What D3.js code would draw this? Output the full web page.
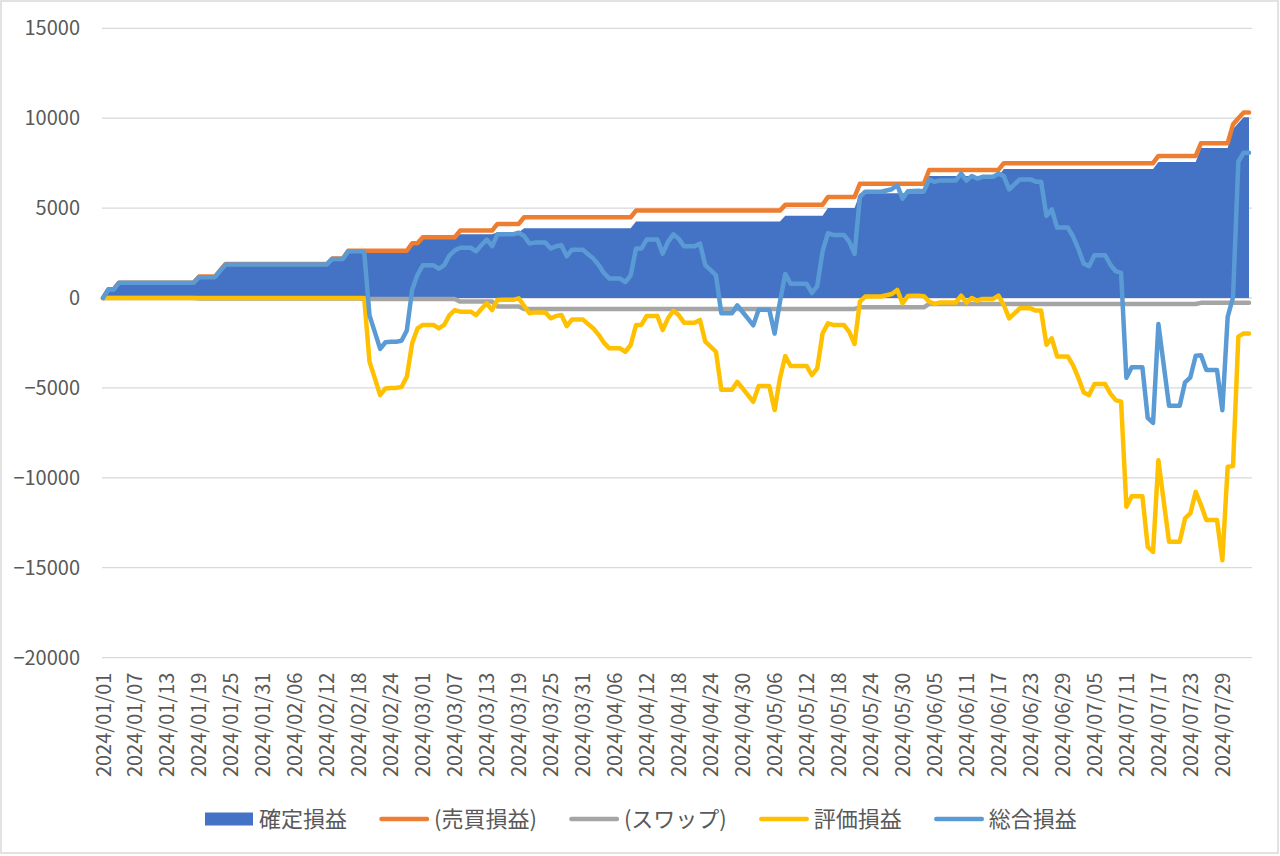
<!DOCTYPE html>
<html>
<head>
<meta charset="utf-8">
<script src="https://cdn.jsdelivr.net/npm/d3@7"></script>
<style>
  html, body { margin: 0; padding: 0; background: #fff; }
  svg text { font-family: "Noto Sans CJK JP", "Noto Sans", sans-serif; fill: #595959; }
</style>
</head>
<body>
<script>
// Daily categories 2024/01/01 .. 2024/08/03
const startDay = new Date(2024, 0, 1);
const endDay = new Date(2024, 7, 4);
const fmt = d3.timeFormat('%Y/%m/%d');
const dates = d3.timeDay.range(startDay, endDay).map(fmt);

const yTicks = [15000, 10000, 5000, 0, -5000, -10000, -15000, -20000];

const seriesNames = ['確定損益', '(売買損益)', '(スワップ)', '評価損益', '総合損益'];
const seriesColors = ['#4472C4', '#ED7D31', '#A5A5A5', '#FFC000', '#5B9BD5'];

// 確定損益 (area)
const fixedPL = [
  0, 480, 480, 850, 850, 850, 850,
  850, 850, 850, 850, 850, 850, 850,
  850, 850, 850, 850, 1160, 1160, 1160,
  1160, 1520, 1860, 1860, 1860, 1860, 1860,
  1860, 1860, 1860, 1860, 1860, 1860, 1860,
  1860, 1860, 1860, 1860, 1860, 1860, 1860,
  1860, 2170, 2170, 2170, 2600, 2600, 2600,
  2570, 2570, 2570, 2570, 2570, 2570, 2570,
  2570, 2570, 2980, 2980, 3320, 3320, 3320,
  3320, 3320, 3320, 3320, 3550, 3550, 3550,
  3550, 3550, 3550, 3550, 3650, 3650, 3650,
  3650, 3650, 3880, 3880, 3880, 3880, 3880,
  3880, 3880, 3880, 3880, 3880, 3880, 3880,
  3880, 3880, 3880, 3880, 3880, 3880, 3880,
  3880, 3880, 4250, 4250, 4250, 4250, 4250,
  4250, 4250, 4250, 4250, 4250, 4250, 4250,
  4250, 4250, 4250, 4250, 4250, 4250, 4250,
  4250, 4250, 4250, 4250, 4250, 4250, 4250,
  4250, 4250, 4570, 4570, 4570, 4570, 4570,
  4570, 4570, 4570, 5010, 5010, 5010, 5010,
  5010, 5010, 5830, 5830, 5830, 5830, 5830,
  5830, 5830, 5830, 5830, 5830, 5830, 5830,
  5830, 6790, 6790, 6790, 6790, 6790, 6790,
  6790, 6790, 6790, 6790, 6790, 6790, 6790,
  6790, 7170, 7170, 7170, 7170, 7170, 7170,
  7170, 7170, 7170, 7170, 7170, 7170, 7170,
  7170, 7170, 7170, 7170, 7170, 7170, 7170,
  7170, 7170, 7170, 7170, 7170, 7170, 7170,
  7170, 7170, 7570, 7570, 7570, 7570, 7570,
  7570, 7570, 7570, 8340, 8340, 8340, 8340,
  8340, 8340, 9380, 9730, 10050, 10050
];

// (売買損益)
const tradePL = [
  0, 480, 480, 850, 850, 850, 850,
  850, 850, 850, 850, 850, 850, 850,
  850, 850, 850, 850, 1190, 1190, 1190,
  1190, 1550, 1890, 1890, 1890, 1890, 1890,
  1890, 1890, 1890, 1890, 1890, 1890, 1890,
  1890, 1890, 1890, 1890, 1890, 1890, 1890,
  1890, 2200, 2200, 2200, 2630, 2630, 2630,
  2630, 2630, 2630, 2630, 2630, 2630, 2630,
  2630, 2630, 3040, 3040, 3380, 3380, 3380,
  3380, 3380, 3380, 3380, 3750, 3750, 3750,
  3750, 3750, 3750, 3750, 4120, 4120, 4120,
  4120, 4120, 4490, 4490, 4490, 4490, 4490,
  4490, 4490, 4490, 4490, 4490, 4490, 4490,
  4490, 4490, 4490, 4490, 4490, 4490, 4490,
  4490, 4490, 4860, 4860, 4860, 4860, 4860,
  4860, 4860, 4860, 4860, 4860, 4860, 4860,
  4860, 4860, 4860, 4860, 4860, 4860, 4860,
  4860, 4860, 4860, 4860, 4860, 4860, 4860,
  4860, 4860, 5180, 5180, 5180, 5180, 5180,
  5180, 5180, 5180, 5620, 5620, 5620, 5620,
  5620, 5620, 6350, 6350, 6350, 6350, 6350,
  6350, 6350, 6350, 6350, 6350, 6350, 6350,
  6350, 7120, 7120, 7120, 7120, 7120, 7120,
  7120, 7120, 7120, 7120, 7120, 7120, 7120,
  7120, 7500, 7500, 7500, 7500, 7500, 7500,
  7500, 7500, 7500, 7500, 7500, 7500, 7500,
  7500, 7500, 7500, 7500, 7500, 7500, 7500,
  7500, 7500, 7500, 7500, 7500, 7500, 7500,
  7500, 7500, 7900, 7900, 7900, 7900, 7900,
  7900, 7900, 7900, 8610, 8610, 8610, 8610,
  8610, 8610, 9650, 10000, 10320, 10320
];

// (スワップ)
const swapPL = [
  0, 0, 0, 0, 0, 0, 0,
  0, 0, 0, 0, 0, 0, 0,
  0, 0, 0, 0, -30, -30, -30,
  -30, -30, -30, -30, -30, -30, -30,
  -30, -30, -30, -30, -30, -30, -30,
  -30, -30, -30, -30, -30, -30, -30,
  -30, -30, -30, -30, -30, -30, -30,
  -60, -60, -60, -60, -60, -60, -60,
  -60, -60, -60, -60, -60, -60, -60,
  -60, -60, -60, -60, -200, -200, -200,
  -200, -200, -200, -200, -470, -470, -470,
  -470, -470, -610, -610, -610, -610, -610,
  -610, -610, -610, -610, -610, -610, -610,
  -610, -610, -610, -610, -610, -610, -610,
  -610, -610, -610, -610, -610, -610, -610,
  -610, -610, -610, -610, -610, -610, -610,
  -610, -610, -610, -610, -610, -610, -610,
  -610, -610, -610, -610, -610, -610, -610,
  -610, -610, -610, -610, -610, -610, -610,
  -610, -610, -610, -610, -610, -610, -610,
  -610, -610, -520, -520, -520, -520, -520,
  -520, -520, -520, -520, -520, -520, -520,
  -520, -330, -330, -330, -330, -330, -330,
  -330, -330, -330, -330, -330, -330, -330,
  -330, -330, -330, -330, -330, -330, -330,
  -330, -330, -330, -330, -330, -330, -330,
  -330, -330, -330, -330, -330, -330, -330,
  -330, -330, -330, -330, -330, -330, -330,
  -330, -330, -330, -330, -330, -330, -330,
  -330, -330, -330, -270, -270, -270, -270,
  -270, -270, -270, -270, -270, -270
];

// 評価損益
const unrealizedPL = [
  0, 0, 0, 0, 0, 0, 0,
  0, 0, 0, 0, 0, 0, 0,
  0, 0, 0, 0, 0, 0, 0,
  0, 0, 0, 0, 0, 0, 0,
  0, 0, 0, 0, 0, 0, 0,
  0, 0, 0, 0, 0, 0, 0,
  0, 0, 0, 0, 0, 0, 0,
  0, -3540, -4470, -5400, -5030, -5000, -5000,
  -4950, -4380, -2520, -1690, -1500, -1500, -1500,
  -1690, -1500, -950, -670, -760, -760, -760,
  -950, -600, -300, -670, -110, -100, -100,
  -100, -20, -430, -850, -800, -800, -800,
  -1130, -1000, -950, -1560, -1190, -1190, -1190,
  -1450, -1690, -2050, -2500, -2800, -2800, -2800,
  -2990, -2615, -1500, -1500, -1000, -1000, -1000,
  -1780, -1130, -710, -950, -1370, -1370, -1370,
  -1220, -2430, -2700, -2990, -5100, -5100, -5100,
  -4660, -5030, -5400, -5770, -4900, -4900, -4900,
  -6230, -4470, -3230, -3780, -3780, -3780, -3780,
  -4290, -3910, -1970, -1410, -1500, -1500, -1500,
  -1880, -2560, -200, 80, 80, 80, 80,
  150, 220, 450, -300, 110, 120, 130,
  100, -200, -330, -250, -250, -250, -250,
  130, -260, 0, -150, -50, -50, -50,
  130, -390, -1130, -850, -575, -575, -575,
  -700, -700, -2600, -2240, -3250, -3250, -3250,
  -3750, -4450, -5260, -5400, -4790, -4790, -4790,
  -5320, -5680, -5770, -11610, -11020, -11020, -11020,
  -13840, -14120, -9020, -11300, -13560, -13560, -13560,
  -12260, -11980, -10780, -11520, -12350, -12350, -12350,
  -14580, -9390, -9350, -2150, -1970, -1970
];

// 総合損益
const totalPL = [
  0, 480, 480, 850, 850, 850, 850,
  850, 850, 850, 850, 850, 850, 850,
  850, 850, 850, 850, 1160, 1160, 1160,
  1160, 1520, 1860, 1860, 1860, 1860, 1860,
  1860, 1860, 1860, 1860, 1860, 1860, 1860,
  1860, 1860, 1860, 1860, 1860, 1860, 1860,
  1860, 2170, 2170, 2170, 2600, 2600, 2600,
  2570, -970, -1900, -2830, -2460, -2430, -2430,
  -2380, -1810, 460, 1290, 1820, 1820, 1820,
  1630, 1820, 2370, 2650, 2790, 2790, 2790,
  2600, 2950, 3250, 2880, 3540, 3550, 3550,
  3550, 3630, 3450, 3030, 3080, 3080, 3080,
  2750, 2880, 2930, 2320, 2690, 2690, 2690,
  2430, 2190, 1830, 1380, 1080, 1080, 1080,
  890, 1265, 2750, 2750, 3250, 3250, 3250,
  2470, 3120, 3540, 3300, 2880, 2880, 2880,
  3030, 1820, 1550, 1260, -850, -850, -850,
  -410, -780, -1150, -1520, -650, -650, -650,
  -1980, -220, 1340, 790, 790, 790, 790,
  280, 660, 2600, 3600, 3510, 3510, 3510,
  3130, 2450, 5630, 5910, 5910, 5910, 5910,
  5980, 6050, 6280, 5530, 5940, 5950, 5960,
  5930, 6590, 6460, 6540, 6540, 6540, 6540,
  6920, 6530, 6790, 6640, 6740, 6740, 6740,
  6920, 6780, 6040, 6320, 6595, 6595, 6595,
  6470, 6470, 4570, 4930, 3920, 3920, 3920,
  3420, 2720, 1910, 1770, 2380, 2380, 2380,
  1850, 1490, 1400, -4440, -3850, -3850, -3850,
  -6670, -6950, -1450, -3730, -5990, -5990, -5990,
  -4690, -4410, -3210, -3180, -4010, -4010, -4010,
  -6240, -1050, 30, 7580, 8080, 8080
];

const width = 1280, height = 856;
const plot = { left: 103, right: 1249, top: 28.3, bottom: 657.6 };

const svg = d3.select('body').append('svg')
  .attr('width', width)
  .attr('height', height);

svg.append('rect')
  .attr('x', 1).attr('y', 1)
  .attr('width', width - 3).attr('height', height - 4)
  .attr('fill', '#fff')
  .attr('stroke', '#D9D9D9')
  .attr('stroke-width', 1.5);

const x = d3.scalePoint().domain(dates).range([plot.left, plot.right]);
const y = d3.scaleLinear().domain([-20000, 15000]).range([plot.bottom, plot.top]);

// Gridlines
svg.append('g')
  .selectAll('line')
  .data(yTicks)
  .enter().append('line')
  .attr('x1', plot.left - 1)
  .attr('x2', plot.right + 3)
  .attr('y1', d => y(d))
  .attr('y2', d => y(d))
  .attr('stroke', '#D9D9D9')
  .attr('stroke-width', 1.3);

// Y axis labels
const yAxis = svg.append('g')
  .attr('transform', 'translate(' + (plot.left - 1) + ',0)')
  .call(d3.axisLeft(y).tickValues(yTicks).tickSize(0).tickPadding(22).tickFormat(d3.format('d')));
yAxis.select('.domain').remove();
yAxis.selectAll('text')
  .attr('font-size', 20)
  .style('font-family', '"Noto Sans CJK JP", sans-serif');

// X axis labels (every 6th day)
const xAxis = svg.append('g')
  .attr('transform', 'translate(0,' + plot.bottom + ')')
  .call(d3.axisBottom(x).tickValues(dates.filter((d, i) => i % 6 === 0)).tickSize(0));
xAxis.select('.domain').remove();
xAxis.selectAll('text')
  .attr('font-size', 20)
  .style('font-family', '"Noto Sans CJK JP", sans-serif')
  .attr('transform', 'rotate(-90)')
  .attr('text-anchor', 'end')
  .attr('x', -15)
  .attr('y', 0)
  .attr('dy', '0.35em');

// Area for 確定損益
const area = d3.area()
  .x((d, i) => x(dates[i]))
  .y0(y(0))
  .y1(d => y(d));

svg.append('path')
  .datum(fixedPL)
  .attr('d', area)
  .attr('fill', seriesColors[0]);

// Lines
const line = d3.line()
  .x((d, i) => x(dates[i]))
  .y(d => y(d));

[tradePL, swapPL, unrealizedPL, totalPL].forEach((values, k) => {
  svg.append('path')
    .datum(values)
    .attr('d', line)
    .attr('fill', 'none')
    .attr('stroke', seriesColors[k + 1])
    .attr('stroke-width', 4.5)
    .attr('stroke-linejoin', 'round')
    .attr('stroke-linecap', 'round');
});

// Legend
const legend = svg.append('g');
const legendY = 819;
let cursor = 205;
seriesNames.forEach((name, k) => {
  if (k === 0) {
    legend.append('rect')
      .attr('x', cursor).attr('y', legendY - 6.5)
      .attr('width', 48).attr('height', 13)
      .attr('fill', seriesColors[k]);
    cursor += 54;
  } else {
    legend.append('line')
      .attr('x1', cursor + 2.5).attr('x2', cursor + 48)
      .attr('y1', legendY).attr('y2', legendY)
      .attr('stroke', seriesColors[k])
      .attr('stroke-width', 4.5)
      .attr('stroke-linecap', 'round');
    cursor += 55;
  }
  const t = legend.append('text')
    .attr('x', cursor)
    .attr('y', legendY)
    .attr('dy', '0.35em')
    .attr('font-size', 22)
    .text(name);
  cursor += t.node().getComputedTextLength() + 32;
});
</script>
</body>
</html>
